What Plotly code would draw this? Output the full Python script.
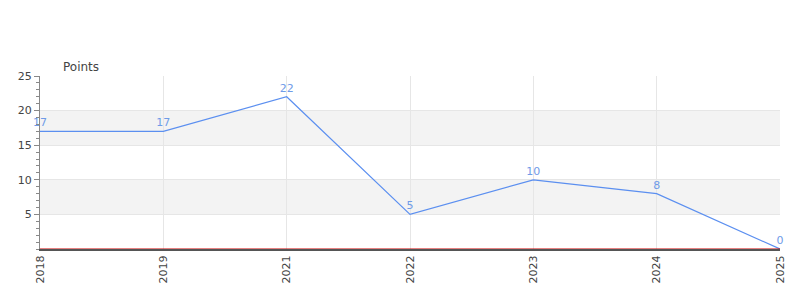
import plotly.graph_objects as go

years = ["2018", "2019", "2021", "2022", "2023", "2024", "2025"]
points = [17, 17, 22, 5, 10, 8, 0]
band_ranges = [(5, 10), (15, 20)]

fig = go.Figure()
fig.add_trace(go.Scatter(
    x=years, y=points, mode="lines+markers+text", text=[str(v) for v in points],
    textposition="top center", textfont=dict(color="#6f9be8", size=11, family="DejaVu Sans"),
    marker=dict(size=2, color="rgba(0,0,0,0)"),
    line=dict(color="#5b8ff0", width=1.2), cliponaxis=False, showlegend=False,
))

for lo, hi in band_ranges:
    fig.add_shape(type="rect", xref="paper", yref="y", x0=0, x1=1, y0=lo, y1=hi,
                  fillcolor="#f3f3f3", line=dict(width=0), layer="below")
fig.add_shape(type="line", xref="paper", yref="y", x0=0, x1=1, y0=0, y1=0,
              line=dict(color="#cc0000", width=1), layer="above")

fig.update_layout(
    width=800, height=300,
    margin=dict(l=40, r=20, t=76, b=51),
    paper_bgcolor="white", plot_bgcolor="white",
    font=dict(family="DejaVu Sans", size=11, color="#444"),
    annotations=[dict(text="Points", xref="paper", yref="paper", x=0.028, y=1.0,
                      xanchor="left", yanchor="bottom", showarrow=False, yshift=0,
                      font=dict(size=12, color="#444"))],
    xaxis=dict(type="category", range=[0, 6], tickangle=-90, showgrid=True,
               gridcolor="#e6e6e6", showline=True, linecolor="#555", linewidth=2,
               ticks="", zeroline=False, tickfont=dict(size=11, color="#444")),
    yaxis=dict(range=[0, 25], tickmode="array", tickvals=[5, 10, 15, 20, 25],
               showgrid=True, gridcolor="#e6e6e6", showline=True, linecolor="#888",
               ticks="outside", ticklen=5, tickcolor="#888", zeroline=False,
               minor=dict(dtick=1, ticks="outside", ticklen=3, tickcolor="#888", showgrid=False),
               tickfont=dict(size=11, color="#444")),
)

fig.write_html("out.html")
